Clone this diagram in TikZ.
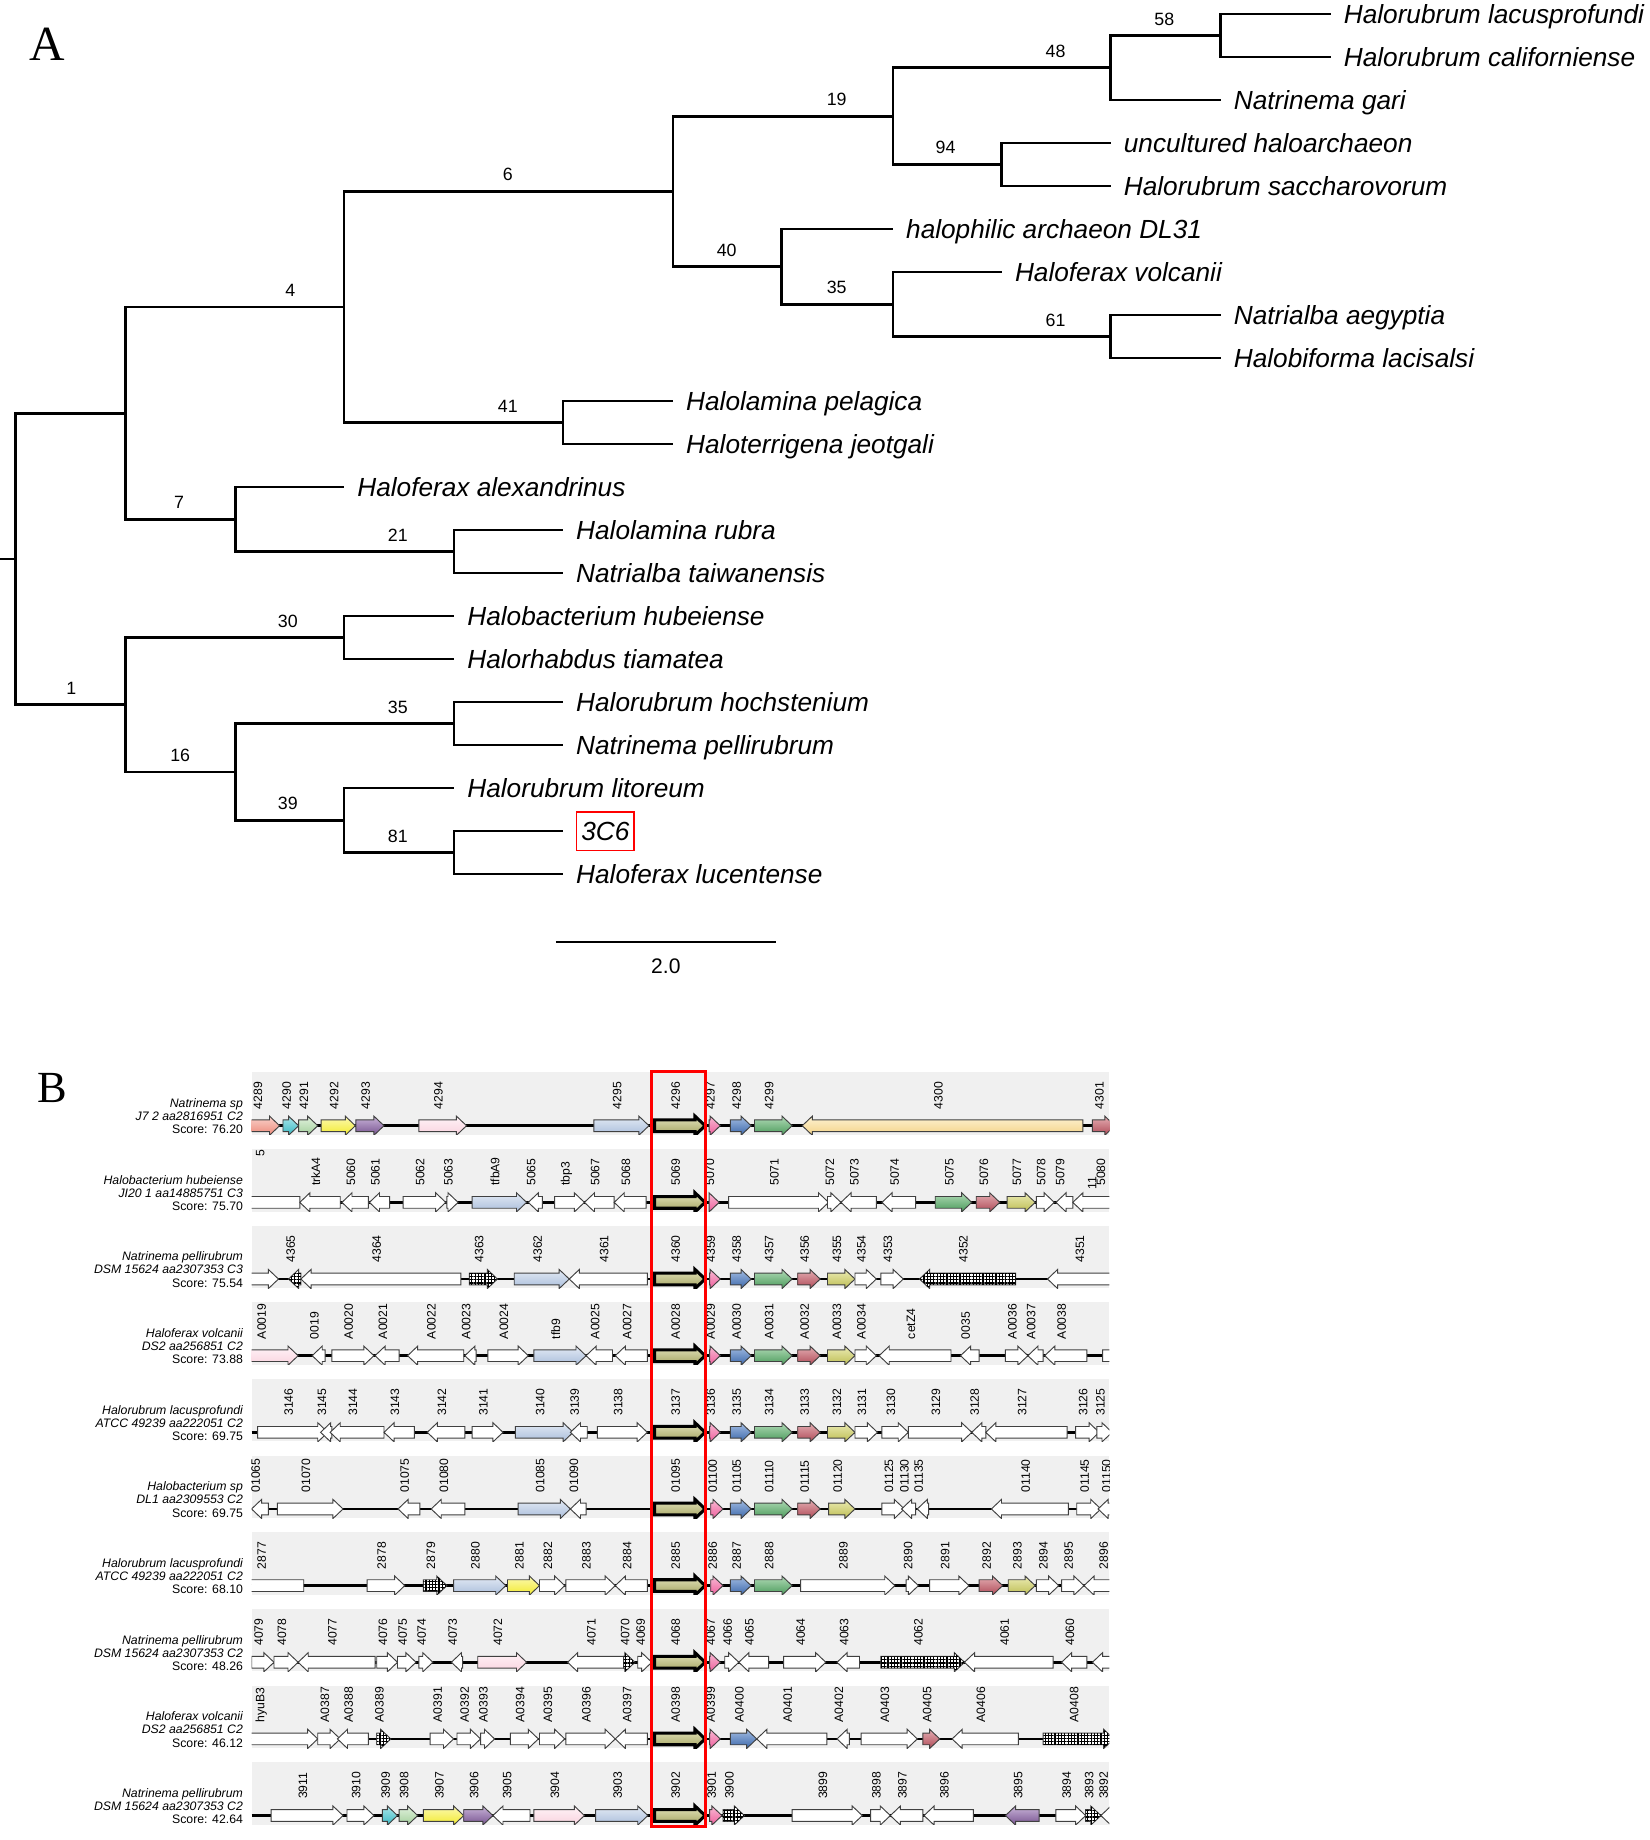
\documentclass[tikz,border=0pt]{standalone}
\usepackage{fontspec}
\setmainfont{Liberation Sans}
\newfontfamily\serifA{Liberation Serif}
\usetikzlibrary{patterns.meta}
\newcounter{glc}
\definecolor{olT}{HTML}{E3E3BC}\definecolor{olB}{HTML}{A3A35F}
\definecolor{pkT}{HTML}{F8B9D3}\definecolor{pkB}{HTML}{EE5F9C}
\definecolor{blT}{HTML}{A2BCE2}\definecolor{blB}{HTML}{3B67AA}
\definecolor{grT}{HTML}{B0DAB6}\definecolor{grB}{HTML}{4A9A5A}
\definecolor{rdT}{HTML}{E4AEB3}\definecolor{rdB}{HTML}{AF4A57}
\definecolor{khT}{HTML}{EBEBB4}\definecolor{khB}{HTML}{BDBD52}
\definecolor{yeT}{HTML}{FCF9B0}\definecolor{yeB}{HTML}{F2EA2E}
\definecolor{puT}{HTML}{C8B3D8}\definecolor{puB}{HTML}{76528F}
\definecolor{cyT}{HTML}{ABE6EA}\definecolor{cyB}{HTML}{36B7C2}
\definecolor{lgT}{HTML}{E1F1DD}\definecolor{lgB}{HTML}{A2CF9A}
\definecolor{saT}{HTML}{F9D2CB}\definecolor{saB}{HTML}{EC8878}
\definecolor{lpT}{HTML}{FFF3F7}\definecolor{lpB}{HTML}{F9D2DE}
\definecolor{lbT}{HTML}{E3EAF4}\definecolor{lbB}{HTML}{A9BDDB}
\definecolor{loT}{HTML}{FDF2D3}\definecolor{loB}{HTML}{F4D286}
\definecolor{bandc}{HTML}{F0F0F0}
\tikzset{
  br/.style={line width=1.15pt},
  leaf/.style={anchor=base west, inner sep=0, font=\fontsize{11.2}{13}\selectfont\itshape},
  bs/.style={anchor=base, inner sep=0, font=\fontsize{7.6}{9}\selectfont},
  rl/.style={anchor=base east, inner sep=0, font=\fontsize{5.25}{6}\selectfont},
  glab/.style={rotate=90, anchor=base west, inner sep=0, font=\fontsize{5.2}{6}\selectfont},
  band/.style={fill=bandc},
  axisl/.style={line width=1.2pt},
  gene/.style={draw=black!75, line width=0.4pt},
  gW/.style={fill=white},
  gO/.style={top color=olT, bottom color=olB, draw=black, line width=1.3pt},
  gP/.style={top color=pkT, bottom color=pkB},
  gBl/.style={top color=blT, bottom color=blB},
  gG/.style={top color=grT, bottom color=grB},
  gRd/.style={top color=rdT, bottom color=rdB},
  gK/.style={top color=khT, bottom color=khB},
  gY/.style={top color=yeT, bottom color=yeB},
  gPu/.style={top color=puT, bottom color=puB},
  gC/.style={top color=cyT, bottom color=cyB},
  gLG/.style={top color=lgT, bottom color=lgB},
  gS/.style={top color=saT, bottom color=saB},
  gLP/.style={top color=lpT, bottom color=lpB},
  gLB/.style={top color=lbT, bottom color=lbB},
  gLO/.style={top color=loT, bottom color=loB},
  gH/.style={fill=white, postaction={pattern={Hatch[angle=0,distance=1.4pt,line width=0.5pt]}, pattern color=black}},
}
\newcommand\gn[5]{%
  \pgfmathsetmacro\gh{min(18,(#2)-(#1))}%
  \if#3R%
    \draw[gene,#4] (#1,\ry-5) -- ({#2-\gh},\ry-5) -- ({#2-\gh},\ry-8.2) -- (#2,\ry) -- ({#2-\gh},\ry+8.2) -- ({#2-\gh},\ry+5) -- (#1,\ry+5) -- cycle;
  \else
    \draw[gene,#4] (#2,\ry-5) -- ({#1+\gh},\ry-5) -- ({#1+\gh},\ry-8.2) -- (#1,\ry) -- ({#1+\gh},\ry+8.2) -- ({#1+\gh},\ry+5) -- (#2,\ry+5) -- cycle;
  \fi
  \stepcounter{glc}%
  \node[glab] (g\arabic{glc}) at ({(#1+#2)/2},\ry-13.8) {#5};%
}
\newcommand\genrow[2]{%
  \def\ry{#1}%
  \begin{scope}[shift={(204.4,0)}, xscale=0.4797]
    \fill[band] (22,#1-45.6) rectangle (1550,#1+7.8);
    \begin{scope}
      \clip (22,#1-45.6) rectangle (1550,#1+7.8);
      \draw[axisl] (22,#1) -- (1550,#1);
      #2
    \end{scope}
  \end{scope}}
\newcommand\rowlab[5]{%
  \node[rl] (#1a) at (208,#2-15.6) {\itshape #3};
  \node[rl] (#1b) at (208,#2-4.3) {\itshape #4};
  \node[rl] (#1c) at (208,#2+7) {Score: #5};}
\newcommand\leaf[4]{%
  \coordinate (t#1) at (#2,#3);
  \node[leaf] (l#1) at ({#2+11},{#3+7.8}) {#4};}
\begin{document}
\begin{tikzpicture}[x=0.5pt,y=-0.5pt]
\useasboundingbox (0,0) rectangle (1410,1572.4);
% ---------------- panel A
\node[font=\serifA\fontsize{21}{21}\selectfont, inner sep=0] (pA) at (40,38) {A};
\coordinate (stub) at (0,477.7);
\coordinate (root) at (13,477.7);
\coordinate (U) at (107,353.1);
\coordinate (n1) at (107,602.3);
\coordinate (n4) at (294,262.4);
\coordinate (n7) at (201,443.8);
\coordinate (n6) at (575,163.6);
\coordinate (n41) at (481,361.1);
\coordinate (n19) at (763,99.3);
\coordinate (n40) at (668,227.9);
\coordinate (n48) at (949,57.9);
\coordinate (n94) at (856,140.6);
\coordinate (n58) at (1043,30.4);
\coordinate (n35a) at (763,260.1);
\coordinate (n61) at (949,287.6);
\coordinate (n21) at (388,471.4);
\coordinate (n30) at (294,544.9);
\coordinate (n16) at (201,659.7);
\coordinate (n35b) at (388,618.4);
\coordinate (n39) at (294,701.1);
\coordinate (n81) at (388,728.6);
\leaf{lacus}{1137}{12}{Halorubrum lacusprofundi}
\leaf{calif}{1137}{48.75}{Halorubrum californiense}
\leaf{gari}{1043}{85.5}{Natrinema gari}
\leaf{uncult}{949}{122.25}{uncultured haloarchaeon}
\leaf{sacch}{949}{159}{Halorubrum saccharovorum}
\leaf{dl}{763}{195.75}{halophilic archaeon DL31}
\leaf{volc}{856}{232.5}{Haloferax volcanii}
\leaf{aegy}{1043}{269.25}{Natrialba aegyptia}
\leaf{lacis}{1043}{306}{Halobiforma lacisalsi}
\leaf{pelag}{575}{342.75}{Halolamina pelagica}
\leaf{jeot}{575}{379.5}{Haloterrigena jeotgali}
\leaf{alex}{294}{416.25}{Haloferax alexandrinus}
\leaf{rubra}{481}{453}{Halolamina rubra}
\leaf{taiw}{481}{489.75}{Natrialba taiwanensis}
\leaf{hube}{388}{526.5}{Halobacterium hubeiense}
\leaf{tiam}{388}{563.25}{Halorhabdus tiamatea}
\leaf{hoch}{481}{600}{Halorubrum hochstenium}
\leaf{pellir}{481}{636.75}{Natrinema pellirubrum}
\leaf{lito}{388}{673.5}{Halorubrum litoreum}
\coordinate (tc) at (481,710.25);
\node[draw=red, line width=0.75pt, anchor=west, inner xsep=2pt, minimum height=16.5pt, font=\fontsize{11.2}{13}\selectfont\itshape] (lc) at (492,710.25) {3C6};
\leaf{lucent}{481}{747}{Haloferax lucentense}
\draw[br] (stub) -- (root);
\draw[br] (root) |- (U);
\draw[br] (root) |- (n1);
\draw[br] (U) |- (n4);
\draw[br] (U) |- (n7);
\draw[br] (n4) |- (n6);
\draw[br] (n4) |- (n41);
\draw[br] (n6) |- (n19);
\draw[br] (n6) |- (n40);
\draw[br] (n19) |- (n48);
\draw[br] (n19) |- (n94);
\draw[br] (n48) |- (n58);
\draw[br] (n48) |- (tgari);
\draw[br] (n58) |- (tlacus);
\draw[br] (n58) |- (tcalif);
\draw[br] (n94) |- (tuncult);
\draw[br] (n94) |- (tsacch);
\draw[br] (n40) |- (tdl);
\draw[br] (n40) |- (n35a);
\draw[br] (n35a) |- (tvolc);
\draw[br] (n35a) |- (n61);
\draw[br] (n61) |- (taegy);
\draw[br] (n61) |- (tlacis);
\draw[br] (n41) |- (tpelag);
\draw[br] (n41) |- (tjeot);
\draw[br] (n7) |- (talex);
\draw[br] (n7) |- (n21);
\draw[br] (n21) |- (trubra);
\draw[br] (n21) |- (ttaiw);
\draw[br] (n1) |- (n30);
\draw[br] (n1) |- (n16);
\draw[br] (n30) |- (thube);
\draw[br] (n30) |- (ttiam);
\draw[br] (n16) |- (n35b);
\draw[br] (n16) |- (n39);
\draw[br] (n35b) |- (thoch);
\draw[br] (n35b) |- (tpellir);
\draw[br] (n39) |- (tlito);
\draw[br] (n39) |- (n81);
\draw[br] (n81) |- (tc);
\draw[br] (n81) |- (tlucent);
\node[bs] (b4) at (248,253.4) {4};
\node[bs] (b6) at (434,154.6) {6};
\node[bs] (b19) at (715,90.3) {19};
\node[bs] (b48) at (902,48.9) {48};
\node[bs] (b58) at (995,21.4) {58};
\node[bs] (b94) at (808,131.6) {94};
\node[bs] (b40) at (621,218.9) {40};
\node[bs] (b35a) at (715,251.1) {35};
\node[bs] (b61) at (902,278.6) {61};
\node[bs] (b41) at (434,352.1) {41};
\node[bs] (b7) at (153,434.8) {7};
\node[bs] (b21) at (340,462.4) {21};
\node[bs] (b1) at (61,593.3) {1};
\node[bs] (b30) at (246,535.9) {30};
\node[bs] (b16) at (154,650.7) {16};
\node[bs] (b35b) at (340,609.4) {35};
\node[bs] (b39) at (246,692.1) {39};
\node[bs] (b81) at (340,719.6) {81};
\coordinate (sb1) at (475,805);
\coordinate (sb2) at (663,805);
\draw[br] (sb1) -- (sb2);
\node[font=\fontsize{9}{11}\selectfont, inner sep=0] (sbl) at (569,826) {2.0};
% ---------------- panel B
\node[font=\serifA\fontsize{19}{19}\selectfont, inner sep=0] (pB) at (45,930) {B};
\genrow{962}{%
\gn{10}{72}{R}{gS}{4289}\gn{78}{106}{R}{gC}{4290}\gn{106}{140}{R}{gLG}{4291}
\gn{146}{207}{R}{gY}{4292}\gn{208}{258}{R}{gPu}{4293}\gn{320}{405}{R}{gLP}{4294}
\gn{632}{730}{R}{gLB}{4295}\gn{740}{830}{R}{gO}{4296}\gn{837}{857}{R}{gP}{4297}
\gn{875}{912}{R}{gBl}{4298}\gn{918}{985}{R}{gG}{4299}\gn{1003}{1503}{L}{gLO}{4300}
\gn{1520}{1560}{R}{gRd}{4301}}
\genrow{1027.5}{%
\gn{-20}{108}{L}{gW}{}\node[glab] (g5059) at (45,\ry-39) {5059};
\gn{108}{180}{L}{gW}{trkA4}\gn{183}{230}{L}{gW}{5060}\gn{232}{268}{L}{gW}{5061}
\gn{292}{368}{R}{gW}{5062}\gn{370}{390}{R}{gW}{5063}\gn{415}{512}{R}{gLB}{tfbA9}
\gn{515}{540}{L}{gW}{5065}\gn{562}{615}{R}{gW}{tbp3}\gn{615}{668}{L}{gW}{5067}
\gn{668}{725}{L}{gW}{5068}\gn{740}{830}{R}{gO}{5069}\gn{837}{855}{R}{gP}{5070}
\gn{872}{1050}{R}{gW}{5071}\gn{1048}{1072}{R}{gW}{5072}\gn{1072}{1135}{L}{gW}{5073}
\gn{1145}{1205}{L}{gW}{5074}\gn{1240}{1305}{R}{gG}{5075}\gn{1313}{1355}{R}{gRd}{5076}
\gn{1368}{1418}{R}{gK}{5077}\gn{1420}{1452}{R}{gW}{5078}\gn{1455}{1485}{L}{gW}{5079}
\gn{1485}{1600}{L}{gW}{5080}\node[glab] (g11) at (1527,\ry-11) {11};}
\genrow{1093}{%
\gn{-20}{70}{R}{gW}{}\gn{88}{110}{L}{gH}{4365}\gn{110}{395}{L}{gW}{4364}
\gn{410}{460}{R}{gH}{4363}\gn{490}{588}{R}{gLB}{4362}\gn{588}{727}{L}{gW}{4361}
\gn{740}{830}{R}{gO}{4360}\gn{838}{857}{R}{gP}{4359}\gn{875}{912}{R}{gBl}{4358}
\gn{918}{985}{R}{gG}{4357}\gn{995}{1035}{R}{gRd}{4356}\gn{1048}{1097}{R}{gK}{4355}
\gn{1097}{1135}{R}{gW}{4354}\gn{1143}{1183}{R}{gW}{4353}\gn{1212}{1383}{L}{gH}{4352}
\gn{1440}{1570}{L}{gW}{4351}}
\genrow{1158.5}{%
\gn{-10}{105}{R}{gLP}{A0019}\gn{130}{153}{L}{gW}{0019}\gn{165}{240}{R}{gW}{A0020}
\gn{242}{285}{L}{gW}{A0021}\gn{300}{400}{L}{gW}{A0022}\gn{402}{422}{L}{gW}{A0023}
\gn{443}{515}{R}{gW}{A0024}\gn{525}{618}{R}{gLB}{tfb9}\gn{618}{665}{L}{gW}{A0025}
\gn{670}{727}{L}{gW}{A0027}\gn{740}{830}{R}{gO}{A0028}\gn{838}{857}{R}{gP}{A0029}
\gn{875}{912}{R}{gBl}{A0030}\gn{918}{985}{R}{gG}{A0031}\gn{995}{1035}{R}{gRd}{A0032}
\gn{1048}{1097}{R}{gK}{A0033}\gn{1097}{1135}{R}{gW}{A0034}\gn{1140}{1268}{L}{gW}{cetZ4}
\gn{1285}{1318}{L}{gW}{0035}\gn{1365}{1405}{R}{gW}{A0036}\gn{1405}{1432}{L}{gW}{A0037}
\gn{1435}{1510}{L}{gW}{A0038}\gn{1538}{1580}{R}{gW}{}}
\genrow{1224}{%
\gn{33}{158}{R}{gW}{3146}\gn{145}{165}{L}{gW}{3145}\gn{162}{258}{L}{gW}{3144}
\gn{258}{312}{L}{gW}{3143}\gn{335}{402}{L}{gW}{3142}\gn{415}{470}{R}{gW}{3141}
\gn{492}{595}{R}{gLB}{3140}\gn{590}{620}{L}{gW}{3139}\gn{638}{727}{R}{gW}{3138}
\gn{740}{830}{R}{gO}{3137}\gn{838}{857}{R}{gP}{3136}\gn{875}{912}{R}{gBl}{3135}
\gn{918}{985}{R}{gG}{3134}\gn{995}{1035}{R}{gRd}{3133}\gn{1048}{1097}{R}{gK}{3132}
\gn{1097}{1137}{R}{gW}{3131}\gn{1145}{1192}{R}{gW}{3130}\gn{1192}{1305}{R}{gW}{3129}
\gn{1305}{1330}{L}{gW}{3128}\gn{1330}{1475}{L}{gW}{3127}\gn{1490}{1532}{R}{gW}{3126}
\gn{1528}{1555}{R}{gW}{3125}}
\genrow{1289.5}{%
\gn{22}{52}{L}{gW}{01065}\gn{68}{185}{R}{gW}{01070}\gn{283}{322}{L}{gW}{01075}
\gn{342}{402}{L}{gW}{01080}\gn{497}{590}{R}{gLB}{01085}\gn{590}{618}{L}{gW}{01090}
\gn{740}{830}{R}{gO}{01095}\gn{840}{862}{R}{gP}{01100}\gn{875}{912}{R}{gBl}{01105}
\gn{918}{985}{R}{gG}{01110}\gn{995}{1035}{R}{gRd}{01115}\gn{1050}{1097}{R}{gK}{01120}
\gn{1145}{1185}{R}{gW}{01125}\gn{1180}{1205}{L}{gW}{01130}\gn{1208}{1228}{L}{gW}{01135}
\gn{1340}{1477}{L}{gW}{01140}\gn{1492}{1535}{R}{gW}{01145}\gn{1530}{1575}{L}{gW}{01150}}
\genrow{1355}{%
\gn{-20}{115}{L}{gW}{2877}\gn{228}{295}{R}{gW}{2878}\gn{328}{370}{R}{gH}{2879}
\gn{382}{475}{R}{gLB}{2880}\gn{478}{535}{R}{gY}{2881}\gn{535}{580}{R}{gW}{2882}
\gn{582}{670}{R}{gW}{2883}\gn{670}{727}{L}{gW}{2884}\gn{740}{830}{R}{gO}{2885}
\gn{840}{862}{R}{gP}{2886}\gn{875}{912}{R}{gBl}{2887}\gn{918}{985}{R}{gG}{2888}
\gn{1000}{1168}{R}{gW}{2889}\gn{1188}{1210}{R}{gW}{2890}\gn{1230}{1300}{R}{gW}{2891}
\gn{1318}{1360}{R}{gRd}{2892}\gn{1370}{1418}{R}{gK}{2893}\gn{1420}{1460}{R}{gW}{2894}
\gn{1465}{1505}{R}{gW}{2895}\gn{1505}{1590}{L}{gW}{2896}}
\genrow{1420.5}{%
\gn{22}{62}{R}{gW}{4079}\gn{62}{105}{R}{gW}{4078}\gn{105}{242}{L}{gW}{4077}
\gn{245}{282}{R}{gW}{4076}\gn{282}{315}{R}{gW}{4075}\gn{320}{345}{R}{gW}{4074}
\gn{378}{398}{L}{gW}{4073}\gn{425}{512}{R}{gLP}{4072}\gn{585}{685}{L}{gW}{4071}
\gn{685}{705}{R}{gH}{4070}\gn{710}{735}{R}{gW}{4069}\gn{740}{830}{R}{gO}{4068}
\gn{838}{857}{R}{gP}{4067}\gn{865}{890}{R}{gW}{4066}\gn{890}{943}{L}{gW}{4065}
\gn{970}{1045}{R}{gW}{4064}\gn{1065}{1105}{L}{gW}{4063}\gn{1143}{1292}{R}{gH}{4062}
\gn{1292}{1450}{L}{gW}{4061}\gn{1465}{1510}{L}{gW}{4060}\gn{1520}{1580}{L}{gW}{}}
\genrow{1486}{%
\gn{-50}{140}{R}{gW}{hyuB3}\gn{140}{180}{R}{gW}{A0387}\gn{175}{230}{L}{gW}{A0388}
\gn{245}{270}{R}{gH}{A0389}\gn{340}{382}{R}{gW}{A0391}\gn{388}{430}{R}{gW}{A0392}
\gn{430}{455}{R}{gW}{A0393}\gn{483}{533}{R}{gW}{A0394}\gn{535}{580}{R}{gW}{A0395}
\gn{582}{670}{R}{gW}{A0396}\gn{670}{727}{L}{gW}{A0397}\gn{740}{830}{R}{gO}{A0398}
\gn{838}{857}{R}{gP}{A0399}\gn{875}{922}{R}{gBl}{A0400}\gn{922}{1047}{L}{gW}{A0401}
\gn{1065}{1087}{L}{gW}{A0402}\gn{1108}{1208}{R}{gW}{A0403}\gn{1218}{1248}{R}{gRd}{A0405}
\gn{1270}{1388}{L}{gW}{A0406}\gn{1432}{1558}{R}{gH}{A0408}}
\genrow{1551.5}{%
\gn{57}{185}{R}{gW}{3911}\gn{192}{240}{R}{gW}{3910}\gn{255}{282}{R}{gC}{3909}
\gn{285}{318}{R}{gLG}{3908}\gn{328}{400}{R}{gY}{3907}\gn{400}{452}{R}{gPu}{3906}
\gn{452}{518}{L}{gW}{3905}\gn{525}{615}{R}{gLP}{3904}\gn{635}{728}{R}{gLB}{3903}
\gn{740}{830}{R}{gO}{3902}\gn{838}{860}{R}{gP}{3901}\gn{862}{900}{R}{gH}{3900}
\gn{985}{1110}{R}{gW}{3899}\gn{1125}{1160}{R}{gW}{3898}\gn{1160}{1218}{L}{gW}{3897}
\gn{1220}{1308}{L}{gW}{3896}\gn{1365}{1425}{L}{gPu}{3895}\gn{1455}{1508}{R}{gW}{3894}
\gn{1508}{1535}{R}{gH}{3893}\gn{1535}{1560}{L}{gW}{3892}}
\rowlab{r1}{962}{Natrinema sp}{J7 2 aa2816951 C2}{76.20}
\rowlab{r2}{1027.5}{Halobacterium hubeiense}{JI20 1 aa14885751 C3}{75.70}
\rowlab{r3}{1093}{Natrinema pellirubrum}{DSM 15624 aa2307353 C3}{75.54}
\rowlab{r4}{1158.5}{Haloferax volcanii}{DS2 aa256851 C2}{73.88}
\rowlab{r5}{1224}{Halorubrum lacusprofundi}{ATCC 49239 aa222051 C2}{69.75}
\rowlab{r6}{1289.5}{Halobacterium sp}{DL1 aa2309553 C2}{69.75}
\rowlab{r7}{1355}{Halorubrum lacusprofundi}{ATCC 49239 aa222051 C2}{68.10}
\rowlab{r8}{1420.5}{Natrinema pellirubrum}{DSM 15624 aa2307353 C2}{48.26}
\rowlab{r9}{1486}{Haloferax volcanii}{DS2 aa256851 C2}{46.12}
\rowlab{r10}{1551.5}{Natrinema pellirubrum}{DSM 15624 aa2307353 C2}{42.64}
\draw[red, line width=1.3pt] (556.5,916) rectangle (603,1561);
\end{tikzpicture}
\end{document}
